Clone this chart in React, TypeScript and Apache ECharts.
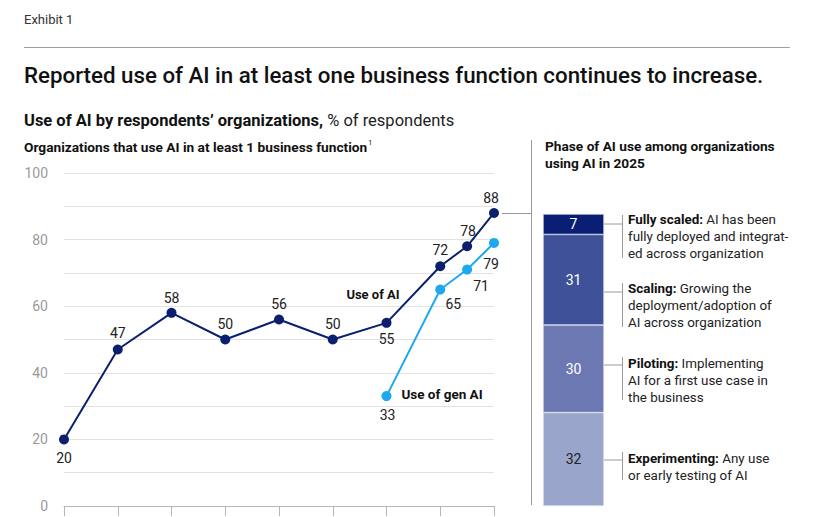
import React, { useEffect, useRef } from "react";
import * as echarts from "echarts";

// Survey years (2024 was surveyed twice, the second wave sits at mid-year)
const aiYears = [2017, 2018, 2019, 2020, 2021, 2022, 2023, 2024, 2024.5, 2025];
const aiValues = [20, 47, 58, 50, 56, 50, 55, 72, 78, 88];
const genAiYears = [2023, 2024, 2024.5, 2025];
const genAiValues = [33, 65, 71, 79];
const yTickLabels = [0, 20, 40, 60, 80, 100];

// Label offsets around each point [dx, dy]
const aiLabelOffsets = [
  [0, 19], [0, -16], [0, -15], [0, -16], [0, -16],
  [0, -16], [0, 16], [0, -16], [1, -15], [-3, -15],
];
const genAiLabelOffsets = [[1, 19], [13, 14], [14, 16], [-3, 21]];

// Phase of AI use, bottom to top
const phaseNames = ["Experimenting", "Piloting", "Scaling", "Fully scaled"];
const phaseValues = [32, 30, 31, 7];
const phaseColors = ["#9aa5cb", "#6b78b1", "#3f5199", "#0a1e73"];
const phaseLabelColors = ["#222222", "#ffffff", "#ffffff", "#ffffff"];
const phaseDescriptions = [
  "or early testing of AI",
  "AI for a first use case in\nthe business",
  "deployment/adoption of\nAI across organization",
  "fully deployed and integrat-\ned across organization",
];
const phaseLeadIns = [" Any use", " Implementing", " Growing the", " AI has been"];

const FONT = "Roboto, 'Liberation Sans', sans-serif";

export default function App() {
  const ref = useRef<HTMLDivElement>(null);

  useEffect(() => {
    document.body.style.margin = "0";
    if (!ref.current) return;
    const chart = echarts.init(ref.current, null, { renderer: "svg" });

    const aiData = aiYears.map((x, i) => ({
      value: [x, aiValues[i]],
      label: { offset: aiLabelOffsets[i] },
    }));
    const genData = genAiYears.map((x, i) => ({
      value: [x, genAiValues[i]],
      label: { offset: genAiLabelOffsets[i] },
    }));

    const pointLabel = {
      show: true,
      position: "inside" as const,
      color: "#222",
      fontFamily: FONT,
      fontSize: 14,
      formatter: (p: any) => String(p.value[1]),
    };

    // Annotation layout for the stacked bar (top to bottom)
    const notes = [
      { idx: 3, textY: 219, lineY: 224, top: 215, bottom: 258 },
      { idx: 2, textY: 288, lineY: 292, top: 283, bottom: 327 },
      { idx: 1, textY: 363, lineY: 365, top: 357, bottom: 400 },
      { idx: 0, textY: 458, lineY: 460, top: 452, bottom: 480 },
    ];

    const noteGraphics: any[] = [];
    notes.forEach((n) => {
      noteGraphics.push({
        type: "polyline",
        shape: { points: [[604, n.lineY], [622.5, n.lineY]] },
        style: { stroke: "#9a9a9a", lineWidth: 1 },
      });
      noteGraphics.push({
        type: "line",
        shape: { x1: 622.5, y1: n.top, x2: 622.5, y2: n.bottom },
        style: { stroke: "#9a9a9a", lineWidth: 1 },
      });
      noteGraphics.push({
        type: "text",
        x: 628,
        y: n.textY - 8.5,
        style: {
          text:
            "{b|" + phaseNames[n.idx] + ":}{r|" + phaseLeadIns[n.idx] + "}\n" +
            phaseDescriptions[n.idx].split("\n").map((s) => "{r|" + s + "}").join("\n"),
          textVerticalAlign: "top",
          rich: {
            b: { fontFamily: FONT, fontSize: 13.4, fontWeight: 700, fill: "#111", lineHeight: 17 },
            r: { fontFamily: FONT, fontSize: 13.4, fill: "#222", lineHeight: 17 },
          },
        },
      });
    });

    chart.setOption({
      animation: false,
      grid: [
        { left: 64, top: 173, width: 430, height: 333 },
        { left: 543, top: 214, width: 61, height: 292 },
      ],
      xAxis: [
        {
          type: "value",
          gridIndex: 0,
          min: 2017,
          max: 2025,
          interval: 1,
          axisLine: { show: true, lineStyle: { color: "#b5b5b5", width: 1 } },
          axisTick: { show: true, length: 10, lineStyle: { color: "#b5b5b5" } },
          axisLabel: { show: false },
          splitLine: { show: false },
        },
        {
          type: "category",
          gridIndex: 1,
          data: ["2025"],
          show: false,
        },
      ],
      yAxis: [
        {
          type: "value",
          gridIndex: 0,
          min: 0,
          max: 100,
          interval: 10,
          axisLine: { show: false },
          axisTick: { show: false },
          axisLabel: {
            margin: 16,
            color: "#9a9a9a",
            fontFamily: FONT,
            fontSize: 14,
            formatter: (v: number) => (yTickLabels.includes(v) ? String(v) : ""),
          },
          splitLine: { lineStyle: { color: "#e2e2e2", width: 1 } },
        },
        { type: "value", gridIndex: 1, min: 0, max: 100, show: false },
      ],
      series: [
        {
          name: "Use of AI",
          type: "line",
          xAxisIndex: 0,
          yAxisIndex: 0,
          data: aiData,
          color: "#0b1f6e",
          lineStyle: { width: 2, color: "#0b1f6e" },
          symbol: "circle",
          symbolSize: 10,
          itemStyle: { color: "#0b1f6e" },
          label: pointLabel,
          z: 3,
        },
        {
          name: "Use of gen AI",
          type: "line",
          xAxisIndex: 0,
          yAxisIndex: 0,
          data: genData,
          color: "#1ea8ef",
          lineStyle: { width: 2, color: "#1ea8ef" },
          symbol: "circle",
          symbolSize: 10,
          itemStyle: { color: "#1ea8ef" },
          label: pointLabel,
          z: 4,
        },
        ...phaseValues.map((v, i) => ({
          name: phaseNames[i],
          type: "bar",
          xAxisIndex: 1,
          yAxisIndex: 1,
          stack: "phase",
          barWidth: "100%",
          data: [v],
          itemStyle: { color: phaseColors[i], borderColor: "#e8ebf4", borderWidth: 0.6 },
          label: {
            show: true,
            position: "inside",
            color: phaseLabelColors[i],
            fontFamily: FONT,
            fontSize: 14,
          },
        })),
      ],
      graphic: [
        {
          type: "text",
          x: 24,
          y: 19,
          style: { text: "Exhibit 1", font: `13px ${FONT}`, fill: "#333", textVerticalAlign: "middle" },
        },
        {
          type: "line",
          shape: { x1: 24, y1: 47.5, x2: 790, y2: 47.5 },
          style: { stroke: "#a0a0a0", lineWidth: 1 },
        },
        {
          type: "text",
          x: 24,
          y: 75,
          style: {
            text: "Reported use of AI in at least one business function continues to increase.",
            font: `500 22.3px ${FONT}`,
            fill: "#111",
            textVerticalAlign: "middle",
          },
        },
        {
          type: "text",
          x: 24,
          y: 120,
          style: {
            text: "{b|Use of AI by respondents\u2019 organizations,}{r| % of respondents}",
            textVerticalAlign: "middle",
            rich: {
              b: { fontFamily: FONT, fontSize: 16.5, fontWeight: 700, fill: "#111" },
              r: { fontFamily: FONT, fontSize: 16.5, fill: "#222" },
            },
          },
        },
        {
          type: "text",
          x: 24,
          y: 147,
          style: {
            text: "{b|Organizations that use AI in at least 1 business function}{s|1}",
            textVerticalAlign: "middle",
            rich: {
              b: { fontFamily: FONT, fontSize: 13.7, fontWeight: 700, fill: "#111" },
              s: { fontFamily: FONT, fontSize: 7, fill: "#111", verticalAlign: "top", padding: [0, 0, 8, 1] },
            },
          },
        },
        {
          type: "text",
          x: 545,
          y: 137.5,
          style: {
            text: "Phase of AI use among organizations\nusing AI in 2025",
            font: `700 13.7px ${FONT}`,
            fill: "#111",
            lineHeight: 17,
            textVerticalAlign: "top",
          },
        },
        {
          type: "text",
          x: 373,
          y: 294,
          style: {
            text: "Use of AI",
            font: `700 13px ${FONT}`,
            fill: "#111",
            textAlign: "center",
            textVerticalAlign: "middle",
          },
        },
        {
          type: "text",
          x: 442,
          y: 394,
          style: {
            text: "Use of gen AI",
            font: `700 13.5px ${FONT}`,
            fill: "#111",
            textAlign: "center",
            textVerticalAlign: "middle",
          },
        },
        // divider between the two panels and the connector from the 2025 point
        {
          type: "line",
          shape: { x1: 531.5, y1: 140, x2: 531.5, y2: 505 },
          style: { stroke: "#9a9a9a", lineWidth: 1 },
        },
        {
          type: "line",
          shape: { x1: 502, y1: 213.5, x2: 531, y2: 213.5 },
          style: { stroke: "#9a9a9a", lineWidth: 1 },
        },
        ...noteGraphics,
      ],
    });

    return () => chart.dispose();
  }, []);

  return (
    <div
      ref={ref}
      style={{ position: "absolute", left: 0, top: 0, width: 824, height: 517, background: "#fff" }}
    />
  );
}
